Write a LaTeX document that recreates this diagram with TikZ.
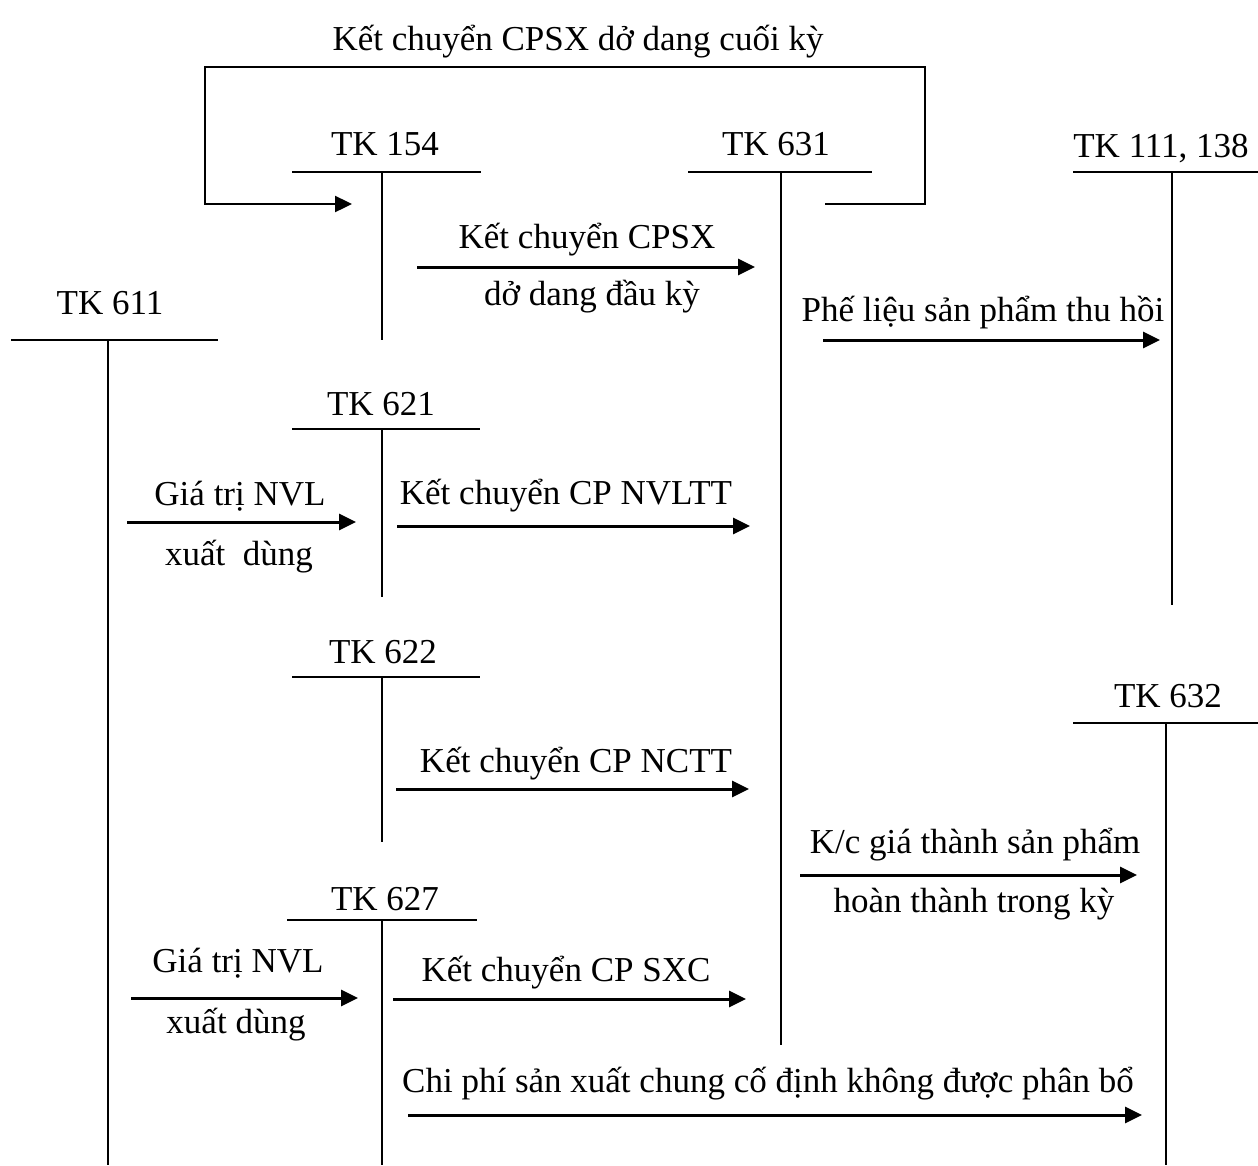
\documentclass[tikz,border=0pt]{standalone}
\usepackage{fontspec}
\setmainfont{Liberation Serif}
\usetikzlibrary{arrows.meta}

% T-account: label node, top bar and vertical stem
% #1 name, #2 label, #3 label x, #4 label baseline, #5 bar y,
% #6 bar left, #7 bar right, #8 stem x, #9 stem bottom
\newcommand{\TAcct}[9]{%
  \node[lbl] (#1) at (#3,#4) {#2};
  \coordinate (#1-l) at (#6,#5);
  \coordinate (#1-r) at (#7,#5);
  \coordinate (#1-t) at (#8,#5);
  \coordinate (#1-b) at (#8,#9);
  \draw[bar] (#1-l) -- (#1-r);
  \draw[stem] (#1-t) -- (#1-b);
}

\begin{document}
\begin{tikzpicture}[x=1pt,y=-1pt,
  lbl/.style={anchor=base,inner sep=0pt,font=\fontsize{35}{42}\selectfont},
  bar/.style={line width=2.4pt},
  stem/.style={line width=1.8pt},
  flow/.style={line width=3pt,-{Triangle[length=17pt,width=16pt]}},
  loopline/.style={line width=2.4pt,-{Triangle[length=17pt,width=16pt]}}]

\useasboundingbox (0,0) rectangle (1258,1165);

% accounts
\TAcct{tk154}{TK 154}{385}{155}{172}{292}{481}{382}{340}
\TAcct{tk631}{TK 631}{776}{155}{172}{688}{872}{781}{1045}
\TAcct{tk111}{TK 111, 138}{1161}{157}{172}{1073}{1258}{1172}{605}
\TAcct{tk611}{TK 611}{110}{314}{340}{11}{218}{108}{1165}
\TAcct{tk621}{TK 621}{381}{415}{429}{292}{480}{382}{597}
\TAcct{tk622}{TK 622}{383}{663}{677}{292}{480}{382}{842}
\TAcct{tk632}{TK 632}{1168}{707}{723}{1073}{1258}{1166}{1165}
\TAcct{tk627}{TK 627}{385}{910}{920}{287}{477}{382}{1165}

% closing work in progress carried back from 631 to 154
\node[lbl] (cuoiky) at (578,50) {Kết chuyển CPSX dở dang cuối kỳ};
\coordinate (lp1) at (825,204);
\coordinate (lp2) at (925,204);
\coordinate (lp3) at (925,67);
\coordinate (lp4) at (205,67);
\coordinate (lp5) at (205,204);
\coordinate (lp6) at (352,204);
\draw[loopline] (lp1) -- (lp2) -- (lp3) -- (lp4) -- (lp5) -- (lp6);

% opening work in progress 154 -> 631
\node[lbl] (dk1) at (587,248) {Kết chuyển CPSX};
\node[lbl] (dk2) at (592,305) {dở dang đầu kỳ};
\coordinate (a1s) at (417,267); \coordinate (a1e) at (755,267);
\draw[flow] (a1s) -- (a1e);

% scrap recovered 631 -> 111,138
\node[lbl] (phelieu) at (983,321) {Phế liệu sản phẩm thu hồi};
\coordinate (a2s) at (823,340); \coordinate (a2e) at (1160,340);
\draw[flow] (a2s) -- (a2e);

% materials 611 -> 621
\node[lbl] (nvl1a) at (240,505) {Giá trị NVL};
\node[lbl] (nvl1b) at (239,565) {xuất\ \ dùng};
\coordinate (a3s) at (127,522); \coordinate (a3e) at (356,522);
\draw[flow] (a3s) -- (a3e);

% 621 -> 631
\node[lbl] (nvltt) at (566,504) {Kết chuyển CP NVLTT};
\coordinate (a4s) at (397,526); \coordinate (a4e) at (750,526);
\draw[flow] (a4s) -- (a4e);

% 622 -> 631
\node[lbl] (nctt) at (576,772) {Kết chuyển CP NCTT};
\coordinate (a5s) at (396,789); \coordinate (a5e) at (749,789);
\draw[flow] (a5s) -- (a5e);

% finished goods 631 -> 632
\node[lbl] (gt1) at (975,853) {K/c giá thành sản phẩm};
\node[lbl] (gt2) at (974,912) {hoàn thành trong kỳ};
\coordinate (a6s) at (800,875); \coordinate (a6e) at (1137,875);
\draw[flow] (a6s) -- (a6e);

% materials 611 -> 627
\node[lbl] (nvl2a) at (238,972) {Giá trị NVL};
\node[lbl] (nvl2b) at (236,1033) {xuất dùng};
\coordinate (a7s) at (131,998); \coordinate (a7e) at (358,998);
\draw[flow] (a7s) -- (a7e);

% 627 -> 631
\node[lbl] (sxc) at (566,981) {Kết chuyển CP SXC};
\coordinate (a8s) at (393,999); \coordinate (a8e) at (746,999);
\draw[flow] (a8s) -- (a8e);

% unallocated fixed overhead 627 -> 632
\node[lbl] (cdinh) at (768,1092) {Chi phí sản xuất chung cố định không được phân bổ};
\coordinate (a9s) at (408,1115); \coordinate (a9e) at (1142,1115);
\draw[flow] (a9s) -- (a9e);

\end{tikzpicture}
\end{document}
